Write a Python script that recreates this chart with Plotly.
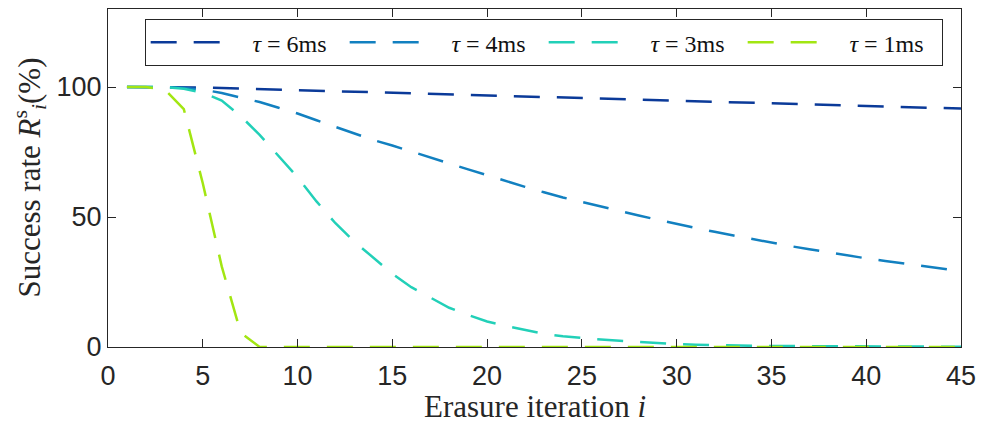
import plotly.graph_objects as go

iterations = list(range(1, 46))

tau6 = [100, 100, 100, 99.9, 99.8, 99.6, 99.4, 99.2, 99.0, 98.8,
        98.6, 98.4, 98.2, 98.0, 97.8, 97.6, 97.4, 97.2, 97.0, 96.8,
        96.6, 96.4, 96.2, 96.0, 95.8, 95.6, 95.4, 95.2, 95.0, 94.7,
        94.5, 94.3, 94.1, 93.9, 93.7, 93.5, 93.3, 93.1, 92.9, 92.7,
        92.5, 92.3, 92.1, 91.9, 91.7]

tau4 = [100, 100, 100, 99.6, 99.0, 97.7, 96.0, 94.2, 92.0, 89.8,
        87.2, 84.7, 82.2, 79.6, 77.5, 75.3, 72.8, 70.6, 68.3, 66.0,
        63.8, 61.6, 59.5, 57.5, 55.8, 54.0, 52.3, 50.6, 48.9, 47.3,
        45.8, 44.3, 42.9, 41.5, 40.1, 38.8, 37.6, 36.4, 35.2, 34.1,
        33.1, 32.1, 31.1, 30.1, 29.2]

tau3 = [100, 100, 100, 99.3, 97.8, 94.8, 88.8, 81.6, 73.5, 65.3,
        56.0, 47.6, 40.5, 34.3, 28.2, 23.0, 19.2, 15.1, 12.3, 9.8,
        8.1, 6.6, 5.1, 4.1, 3.4, 2.9, 2.4, 1.9, 1.5, 1.1,
        0.85, 0.65, 0.55, 0.45, 0.4, 0.35, 0.3, 0.25, 0.2, 0.2,
        0.15, 0.1, 0.1, 0.1, 0.1]

tau1 = [100, 100, 99.0, 91.5, 63.0, 31.0, 5.5, 0, 0, 0,
        0, 0, 0, 0, 0, 0, 0, 0, 0, 0,
        0, 0, 0, 0, 0, 0, 0, 0, 0, 0,
        0, 0, 0, 0, 0, 0, 0, 0, 0, 0,
        0, 0, 0, 0, 0]

series_names = ["\u2002\u2009<i>τ</i> = 6ms", "\u2002\u2009<i>τ</i> = 4ms",
                "\u2002\u2009<i>τ</i> = 3ms", "\u2002\u2009<i>τ</i> = 1ms"]
series_values = [tau6, tau4, tau3, tau1]
series_colors = ["#0b3a99", "#1280c0", "#22d0b8", "#a2e612"]

x_ticks = [0, 5, 10, 15, 20, 25, 30, 35, 40, 45]
y_ticks = [0, 50, 100]

SERIF = "Liberation Serif, Times New Roman, serif"
SANS = "Liberation Sans, Arial, sans-serif"

fig = go.Figure()
for name, vals, col in zip(series_names, series_values, series_colors):
    fig.add_trace(go.Scatter(
        x=iterations, y=vals, mode="lines", name=name,
        line=dict(color=col, width=2.5, dash="26px,17px"),
    ))

axis_common = dict(
    showgrid=False, zeroline=False, showline=True, mirror="allticks",
    linecolor="#262626", linewidth=1, ticks="inside", ticklen=8,
    tickcolor="#262626", tickwidth=1,
    tickfont=dict(family=SANS, size=27, color="#262626"),
)

fig.update_layout(
    width=984, height=423,
    margin=dict(l=108, r=18, t=8, b=76),
    paper_bgcolor="white", plot_bgcolor="white",
    xaxis=dict(range=[0, 45], tickvals=x_ticks, ticklabelstandoff=5, **axis_common),
    yaxis=dict(range=[0, 130], tickvals=y_ticks, ticksuffix="\u00a0", **axis_common),
    showlegend=True,
    legend=dict(
        orientation="h", x=0.043, y=0.97, xanchor="left", yanchor="top",
        bordercolor="#262626", borderwidth=1, bgcolor="white",
        font=dict(family=SERIF, size=24, color="#111111"),
        itemwidth=80, entrywidth=104, entrywidthmode="pixels",
        tracegroupgap=0,
    ),
    annotations=[
        dict(text="Erasure iteration <i>i</i>", xref="paper", yref="paper",
             x=0.5, y=-0.177, xanchor="center", yanchor="middle", showarrow=False,
             font=dict(family=SERIF, size=31, color="#262626")),
        dict(text="Success rate <i>R</i><sup>s</sup><sub><i>i</i></sub>(%)", xref="paper", yref="paper",
             x=-0.092, y=0.5, xanchor="center", yanchor="middle", showarrow=False,
             textangle=-90,
             font=dict(family=SERIF, size=31, color="#262626")),
    ],
)

fig.write_html("out.html", config={"displayModeBar": False})

with open("out.html", "r", encoding="utf-8") as f:
    html = f.read()
html = html.replace("<body>", '<body style="margin:0;padding:0;overflow:hidden;">', 1)
with open("out.html", "w", encoding="utf-8") as f:
    f.write(html)
